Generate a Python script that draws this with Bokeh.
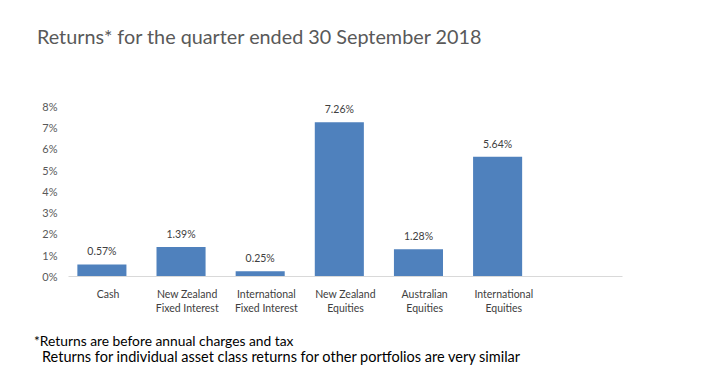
from bokeh.plotting import figure
from bokeh.models import FactorRange, Range1d, ColumnDataSource, FixedTicker, Div
from bokeh.layouts import column
from bokeh.transform import dodge
from bokeh.core.properties import value
from bokeh.embed import file_html
from bokeh.resources import INLINE

title_text = "Returns* for the quarter ended 30 September 2018"
footnotes = ["*Returns are before annual charges and tax",
             "Returns for individual asset class returns for other portfolios are very similar"]
categories = ["Cash", "New Zealand\nFixed Interest", "International\nFixed Interest",
              "New Zealand\nEquities", "Australian\nEquities", "International\nEquities"]
returns = [0.57, 1.39, 0.25, 7.26, 1.28, 5.64]
value_labels = ["0.57%", "1.39%", "0.25%", "7.26%", "1.28%", "5.64%"]
y_ticks = [0, 1, 2, 3, 4, 5, 6, 7, 8]

FONT = "Lato"
src = ColumnDataSource(dict(cat=categories, val=returns, lab=value_labels))

TITLE_H = 70
FIG_H = 255
FOOT_H = 382 - TITLE_H - FIG_H

title_div = Div(text=title_text, width=715, height=TITLE_H, margin=0,
                styles={"font-family": FONT, "font-size": "19.8px", "color": "#595959",
                        "padding-left": "37px", "padding-top": "24px", "line-height": "24px",
                        "box-sizing": "border-box", "white-space": "nowrap"})

# y range reaches a little above 8% so the top value label is not clipped;
# 8% stays at the same pixel row as in the reference.
p = figure(width=715, height=FIG_H, output_backend="svg", toolbar_location=None,
           x_range=FactorRange(factors=categories + [" "], range_padding=0),
           y_range=Range1d(0, 8.47),
           min_border_left=68, min_border_right=93,
           min_border_top=96 - TITLE_H, min_border_bottom=FIG_H - (276 - TITLE_H),
           margin=0)
p.outline_line_color = None
p.xgrid.grid_line_color = None
p.ygrid.grid_line_color = None

x_bar = dodge("cat", -0.078, range=p.x_range)
p.vbar(x=x_bar, top="val", width=0.62, source=src, color="#4F81BD", line_color=None)
p.text(x=x_bar, y="val", text="lab", source=src, y_offset=-13,
       text_align="center", text_baseline="middle", text_font_size="10.5px",
       text_color="#404040", text_font=value(FONT))

p.yaxis.ticker = FixedTicker(ticks=y_ticks)
p.yaxis.major_label_overrides = {t: f"{t}%" for t in y_ticks}
p.yaxis.axis_line_color = None
p.yaxis.major_tick_line_color = None
p.yaxis.major_tick_out = 0
p.yaxis.major_tick_in = 0
p.yaxis.minor_tick_line_color = None
p.yaxis.major_label_text_font = FONT
p.yaxis.major_label_text_font_size = "11px"
p.yaxis.major_label_text_color = "#595959"
p.yaxis.major_label_standoff = 11

p.xaxis.axis_line_color = "#D9D9D9"
p.xaxis.major_tick_line_color = None
p.xaxis.major_tick_out = 0
p.xaxis.major_tick_in = 0
p.xaxis.minor_tick_line_color = None
p.xaxis.major_label_text_font = FONT
p.xaxis.major_label_text_font_size = "10.5px"
p.xaxis.major_label_text_color = "#404040"
p.xaxis.major_label_standoff = 11

foot_html = (f'<div style="padding-left:34px;font-size:13.8px">{footnotes[0]}</div>'
             f'<div style="padding-left:42px;font-size:14.5px">{footnotes[1]}</div>')
foot_div = Div(text=foot_html, width=715, height=FOOT_H, margin=0,
               styles={"font-family": FONT, "font-size": "14px", "color": "#000000",
                       "line-height": "16px", "padding-top": "8px",
                       "box-sizing": "border-box", "white-space": "nowrap"})

layout = column(title_div, p, foot_div, spacing=0, margin=0)
open("out.html", "w").write(file_html(layout, INLINE))
